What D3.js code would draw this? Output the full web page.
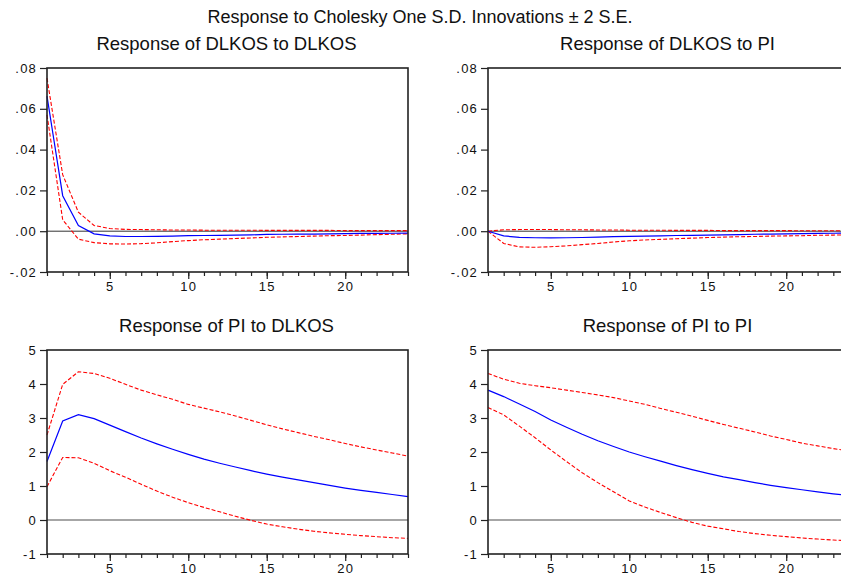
<!DOCTYPE html>
<html>
<head>
<meta charset="utf-8">
<script src="https://cdn.jsdelivr.net/npm/d3@7"></script>
<style>
  html, body { margin: 0; padding: 0; background: #fff; }
  svg { display: block; font-family: "Liberation Sans", Arial, sans-serif; }
</style>
</head>
<body>
<svg id="chart" width="841" height="577"></svg>
<script>
// ---------------- data ----------------
const periods = [1,2,3,4,5,6,7,8,9,10,11,12,13,14,15,16,17,18,19,20,21,22,23,24];
const majorTicks = [5, 10, 15, 20];
const topYTicks = [-0.02, 0.00, 0.02, 0.04, 0.06, 0.08];
const bottomYTicks = [-1, 0, 1, 2, 3, 4, 5];

const mainTitle = "Response to Cholesky One S.D. Innovations \u00B1 2 S.E.";
const panelTitles = ["Response of DLKOS to DLKOS", "Response of DLKOS to PI",
                     "Response of PI to DLKOS", "Response of PI to PI"];

// Response of DLKOS to DLKOS
const dlkosDlkos      = [0.0662, 0.0174, 0.0028, -0.0013, -0.0023, -0.0026, -0.0026, -0.0025, -0.0024, -0.0022, -0.0021, -0.0020, -0.0019, -0.0018, -0.0016, -0.0015, -0.0014, -0.0014, -0.0013, -0.0012, -0.0011, -0.0011, -0.0010, -0.0009];
const dlkosDlkosUpper = [0.0750, 0.0277, 0.0093, 0.0028, 0.0013, 0.0009, 0.0008, 0.0007, 0.0006, 0.0006, 0.0005, 0.0005, 0.0005, 0.0005, 0.0004, 0.0004, 0.0004, 0.0004, 0.0004, 0.0003, 0.0003, 0.0003, 0.0003, 0.0003];
const dlkosDlkosLower = [0.0570, 0.0056, -0.0039, -0.0056, -0.0062, -0.0063, -0.0061, -0.0057, -0.0051, -0.0046, -0.0042, -0.0039, -0.0036, -0.0033, -0.0030, -0.0028, -0.0026, -0.0024, -0.0022, -0.0021, -0.0019, -0.0017, -0.0015, -0.0013];

// Response of DLKOS to PI
const dlkosPi      = [0, -0.0023, -0.0030, -0.0032, -0.0033, -0.0032, -0.0031, -0.0029, -0.0027, -0.0025, -0.0024, -0.0023, -0.0021, -0.0020, -0.0019, -0.0018, -0.0017, -0.0015, -0.0014, -0.0013, -0.0012, -0.0011, -0.0010, -0.0009];
const dlkosPiUpper = [0, 0.0007, 0.0008, 0.0008, 0.0008, 0.0007, 0.0007, 0.0006, 0.0006, 0.0005, 0.0005, 0.0005, 0.0004, 0.0004, 0.0004, 0.0003, 0.0003, 0.0003, 0.0003, 0.0003, 0.0002, 0.0002, 0.0002, 0.0002];
const dlkosPiLower = [0, -0.0060, -0.0077, -0.0079, -0.0076, -0.0072, -0.0066, -0.0060, -0.0053, -0.0047, -0.0043, -0.0040, -0.0037, -0.0034, -0.0031, -0.0029, -0.0027, -0.0026, -0.0024, -0.0023, -0.0022, -0.0020, -0.0019, -0.0018];

// Response of PI to DLKOS
const piDlkos      = [1.72, 2.91, 3.10, 2.98, 2.79, 2.60, 2.41, 2.24, 2.08, 1.93, 1.79, 1.67, 1.56, 1.45, 1.35, 1.26, 1.18, 1.10, 1.02, 0.94, 0.87, 0.81, 0.75, 0.69];
const piDlkosUpper = [2.50, 3.99, 4.36, 4.31, 4.17, 3.99, 3.82, 3.68, 3.55, 3.40, 3.29, 3.18, 3.06, 2.93, 2.80, 2.68, 2.57, 2.46, 2.36, 2.25, 2.15, 2.06, 1.97, 1.88];
const piDlkosLower = [0.98, 1.84, 1.83, 1.67, 1.45, 1.26, 1.05, 0.85, 0.67, 0.51, 0.37, 0.24, 0.11, -0.01, -0.12, -0.20, -0.27, -0.33, -0.38, -0.42, -0.46, -0.49, -0.52, -0.54];

// Response of PI to PI
const piPi      = [3.82, 3.63, 3.41, 3.19, 2.94, 2.73, 2.52, 2.33, 2.16, 2.00, 1.86, 1.73, 1.60, 1.48, 1.37, 1.27, 1.19, 1.10, 1.02, 0.95, 0.89, 0.83, 0.77, 0.72];
const piPiUpper = [4.31, 4.14, 4.02, 3.95, 3.89, 3.82, 3.75, 3.68, 3.60, 3.50, 3.40, 3.28, 3.17, 3.05, 2.93, 2.81, 2.70, 2.59, 2.47, 2.37, 2.26, 2.18, 2.10, 2.03];
const piPiLower = [3.31, 3.09, 2.76, 2.42, 2.06, 1.72, 1.39, 1.10, 0.83, 0.56, 0.38, 0.22, 0.07, -0.07, -0.18, -0.26, -0.34, -0.40, -0.45, -0.49, -0.53, -0.56, -0.59, -0.61];

// ---------------- drawing ----------------
const svg = d3.select("#chart");

svg.append("text")
  .attr("x", 420).attr("y", 23)
  .attr("text-anchor", "middle")
  .style("font-size", "18px")
  .style("fill", "#111")
  .text(mainTitle);

const fmtTop = v => (v < 0 ? "-" : "") + Math.abs(v).toFixed(2).replace(/^0/, "");
const fmtBottom = v => (v < 0 ? "-" : "") + Math.abs(v).toFixed(0);

const panels = [
  { title: panelTitles[0], left: 47,  top: 68,  domain: [-0.02, 0.08], yTicks: topYTicks, fmt: fmtTop,
    mid: dlkosDlkos, up: dlkosDlkosUpper, lo: dlkosDlkosLower, zeroColor: "#333", zeroWidth: 1 },
  { title: panelTitles[1], left: 488, top: 68,  domain: [-0.02, 0.08], yTicks: topYTicks, fmt: fmtTop,
    mid: dlkosPi, up: dlkosPiUpper, lo: dlkosPiLower, zeroColor: "#333", zeroWidth: 1 },
  { title: panelTitles[2], left: 47,  top: 350, domain: [-1, 5], yTicks: bottomYTicks, fmt: fmtBottom,
    mid: piDlkos, up: piDlkosUpper, lo: piDlkosLower, zeroColor: "#888", zeroWidth: 1.5 },
  { title: panelTitles[3], left: 488, top: 350, domain: [-1, 5], yTicks: bottomYTicks, fmt: fmtBottom,
    mid: piPi, up: piPiUpper, lo: piPiLower, zeroColor: "#888", zeroWidth: 1.5 }
];

const pw = 361, ph = 204;

panels.forEach(p => {
  const g = svg.append("g").attr("transform", `translate(${p.left},${p.top})`);
  const x = d3.scaleLinear().domain([1, 24]).range([0, pw]);
  const y = d3.scaleLinear().domain(p.domain).range([ph, 0]);

  // panel title
  g.append("text")
    .attr("x", pw / 2 - 1).attr("y", -18)
    .attr("text-anchor", "middle")
    .style("font-size", "18.5px")
    .style("fill", "#111")
    .text(p.title);

  // zero line
  g.append("line")
    .attr("x1", 0).attr("x2", pw)
    .attr("y1", y(0)).attr("y2", y(0))
    .attr("stroke", p.zeroColor).attr("stroke-width", p.zeroWidth);

  const line = d3.line().x((d, i) => x(periods[i])).y(d => y(d));

  g.append("path").datum(p.up).attr("d", line)
    .attr("fill", "none").attr("stroke", "#ff0000").attr("stroke-width", 1.1)
    .attr("stroke-dasharray", "4,2");
  g.append("path").datum(p.lo).attr("d", line)
    .attr("fill", "none").attr("stroke", "#ff0000").attr("stroke-width", 1.1)
    .attr("stroke-dasharray", "4,2");
  g.append("path").datum(p.mid).attr("d", line)
    .attr("fill", "none").attr("stroke", "#0000ff").attr("stroke-width", 1.2);

  // frame
  g.append("rect")
    .attr("x", 0).attr("y", 0).attr("width", pw).attr("height", ph)
    .attr("fill", "none").attr("stroke", "#222").attr("stroke-width", 1.6);

  // minor x ticks
  const minor = g.append("g").attr("transform", `translate(0,${ph})`)
    .call(d3.axisBottom(x).tickValues(periods).tickSize(4).tickFormat(""));
  // major x ticks with labels
  const major = g.append("g").attr("transform", `translate(0,${ph})`)
    .call(d3.axisBottom(x).tickValues(majorTicks).tickSize(7).tickPadding(3).tickFormat(d3.format("d")));
  // y axis
  const yax = g.append("g")
    .call(d3.axisLeft(y).tickValues(p.yTicks).tickSize(7).tickPadding(3).tickFormat(p.fmt));

  [minor, major, yax].forEach(a => {
    a.select(".domain").remove();
    a.selectAll("line").attr("stroke", "#222").attr("stroke-width", 1.2);
    a.selectAll("text")
      .style("font-size", "13px")
      .style("letter-spacing", "1.2px")
      .style("font-family", '"Liberation Sans", Arial, sans-serif')
      .attr("fill", "#111");
  });
});
</script>
</body>
</html>
